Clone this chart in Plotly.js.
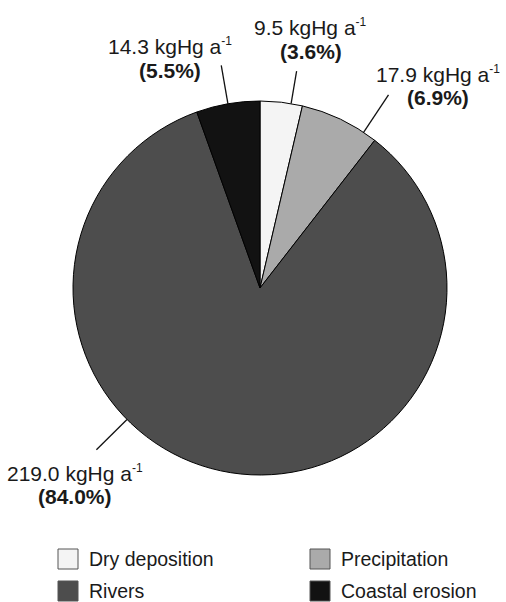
<!DOCTYPE html>
<html>
<head>
<meta charset="utf-8">
<script src="https://cdn.plot.ly/plotly-3.0.1.min.js"></script>
<style>html,body{margin:0;padding:0;background:#fff;}#chart{width:506px;height:602px;}</style>
</head>
<body>
<div id="chart"></div>
<script>
// ---- data ----
const categories = ['Dry deposition', 'Precipitation', 'Rivers', 'Coastal erosion'];
const fluxes = [9.5, 17.9, 219.0, 14.3];          // kgHg a^-1
const percents = ['3.6', '6.9', '84.0', '5.5'];    // % as printed
const colors = ['#f4f4f4', '#aaaaaa', '#4d4d4d', '#121212'];

// ---- placement / style (not data) ----
const W = 506, H = 602;
const domX = [73 / W, 447 / W];
const domY = [1 - 475 / H, 1 - 101 / H];
const labelFrac = [0.73, 0.83, 0.62, 0.5];   // where in slice the leader starts
const leaderLen = [33, 45, 43, 39];
const textOffset = [[14, -32], [49, -9], [-21, 35], [-51, -7]];
const lineGap = 24;
const FONT = 'Liberation Sans, Arial, sans-serif';

const cx = (domX[0] + domX[1]) / 2 * W;
const cy = (1 - (domY[0] + domY[1]) / 2) * H;
const r = Math.min((domX[1] - domX[0]) * W, (domY[1] - domY[0]) * H) / 2;
const total = fluxes.reduce((a, b) => a + b, 0);

const shapes = [];
const annotations = [];
let cum = 0;
fluxes.forEach((v, i) => {
  const a0 = cum / total * 360;
  cum += v;
  const a1 = cum / total * 360;
  const th = (a0 + labelFrac[i] * (a1 - a0)) * Math.PI / 180;
  const sx = cx + r * Math.sin(th), sy = cy - r * Math.cos(th);
  const ex = cx + (r + leaderLen[i]) * Math.sin(th), ey = cy - (r + leaderLen[i]) * Math.cos(th);
  shapes.push({type: 'line', xref: 'paper', yref: 'paper',
    x0: sx / W, y0: 1 - sy / H, x1: ex / W, y1: 1 - ey / H,
    line: {color: '#111', width: 1.3}});
  const tx = ex + textOffset[i][0], ty = ey + textOffset[i][1];
  annotations.push({xref: 'paper', yref: 'paper',
    x: tx / W, y: 1 - (ty - lineGap / 2) / H,
    xanchor: 'center', yanchor: 'middle', showarrow: false,
    text: v.toFixed(1) + ' kgHg a<sup><span style="font-size:12px">-1</span></sup>',
    font: {family: FONT, size: 21, color: '#1a1a1a'}});
  annotations.push({xref: 'paper', yref: 'paper',
    x: tx / W, y: 1 - (ty + lineGap / 2) / H,
    xanchor: 'center', yanchor: 'middle', showarrow: false,
    text: '<b>(' + percents[i] + '%)</b>',
    font: {family: FONT, size: 21, color: '#1a1a1a'}});
});

// custom legend built from the category arrays
const legX = [58, 310], legY = [559, 591], sw = 20;
categories.forEach((c, i) => {
  const lx = legX[i % 2], ly = legY[Math.floor(i / 2)];
  shapes.push({type: 'rect', xref: 'paper', yref: 'paper',
    x0: lx / W, x1: (lx + sw) / W, y0: 1 - (ly + sw / 2) / H, y1: 1 - (ly - sw / 2) / H,
    fillcolor: colors[i], line: {color: '#555', width: 1}});
  annotations.push({xref: 'paper', yref: 'paper', x: (lx + sw + 9) / W, y: 1 - ly / H,
    xanchor: 'left', yanchor: 'middle', showarrow: false, text: c,
    font: {family: FONT, size: 19.5, color: '#1a1a1a'}});
});

const trace = {
  type: 'pie', labels: categories, values: fluxes, sort: false, direction: 'clockwise',
  rotation: 0, textinfo: 'none', hoverinfo: 'label+value+percent',
  marker: {colors: colors, line: {color: '#000', width: 1}},
  domain: {x: domX, y: domY}, showlegend: false
};

Plotly.newPlot('chart', [trace], {
  width: W, height: H, margin: {l: 0, r: 0, t: 0, b: 0},
  paper_bgcolor: '#fff', plot_bgcolor: '#fff', showlegend: false,
  shapes: shapes, annotations: annotations
}, {displayModeBar: false, staticPlot: true});
</script>
</body>
</html>
